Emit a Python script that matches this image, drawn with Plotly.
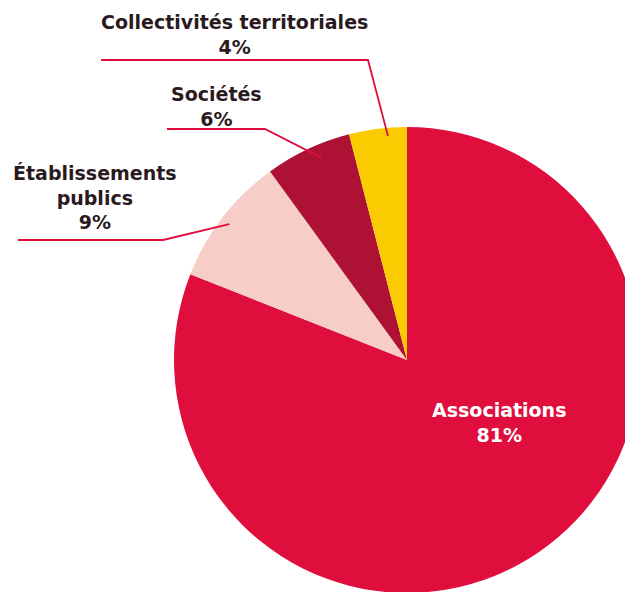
import math
import plotly.graph_objects as go

# ---- data ----
labels = ["Associations", "Établissements publics", "Sociétés", "Collectivités territoriales"]
label_text = ["Associations", "Établissements<br>publics", "Sociétés", "Collectivités territoriales"]
values = [81, 9, 6, 4]
colors = ["#E00E3D", "#F7CDC7", "#AD1235", "#F9CB00"]

# ---- layout / styling ----
OFF = 8                     # page offset of the figure inside the window
W, H = 632, 592
CX, CY, R = 407, 360, 233   # pie centre and radius in window pixels
FONT = "DejaVu Sans, sans-serif"
FSIZE = 19
TXT = "#2A1A1E"
LINE = "#E00E3D"

# outside labels (window px): text centre, horizontal line start x, elbow,
# anchor radius factor and angular nudge (degrees) from the slice middle
outside = {
    1: dict(tx=95, ty=197, hx=18, ex=163, ey=240, rf=0.96, da=-0.4),
    2: dict(tx=216, ty=107, hx=167, ex=265, ey=129, rf=0.94, da=2.4),
    3: dict(tx=234, ty=34, hx=101, ex=368, ey=60, rf=0.965, da=2.35),
}
inside_pos = {0: (499, 422)}

def px(x):
    return (x - OFF) / W

def py(y):
    return 1 - (y - OFF) / H

fig = go.Figure(go.Pie(
    labels=labels,
    values=values,
    marker=dict(colors=colors, line=dict(width=0)),
    sort=False,
    direction="clockwise",
    rotation=0,
    textinfo="none",
    hoverinfo="label+percent",
    showlegend=False,
    domain=dict(x=[max(0.0, px(CX - R)), min(1.0, px(CX + R))],
                y=[max(0.0, py(CY + R)), min(1.0, py(CY - R))]),
))

total = sum(values)
annotations = []
shapes = []
cum = 0
for i, v in enumerate(values):
    pct = round(100 * v / total)
    mid = (cum + v / 2) / total * 360
    cum += v
    if i in inside_pos:
        x, y = inside_pos[i]
        annotations.append(dict(
            x=px(x), y=py(y), xref="paper", yref="paper",
            text=f"<b>{label_text[i]}<br>{pct}%</b>", showarrow=False,
            font=dict(family=FONT, size=FSIZE, color="white"),
            xanchor="center", yanchor="middle", align="center"))
        continue
    o = outside[i]
    a = math.radians(mid + o["da"])
    ax = CX + o["rf"] * R * math.sin(a)
    ay = CY - o["rf"] * R * math.cos(a)
    annotations.append(dict(
        x=px(o["tx"]), y=py(o["ty"]), xref="paper", yref="paper",
        text=f"<b>{label_text[i]}<br>{pct}%</b>", showarrow=False,
        font=dict(family=FONT, size=FSIZE, color=TXT),
        xanchor="center", yanchor="middle", align="center"))
    path = f"M {px(o['hx'])} {py(o['ey'])} L {px(o['ex'])} {py(o['ey'])} L {px(ax)} {py(ay)}"
    shapes.append(dict(type="path", path=path, xref="paper", yref="paper",
                       line=dict(color=LINE, width=1.8)))

fig.update_layout(
    width=W, height=H,
    margin=dict(l=0, r=0, t=0, b=0),
    paper_bgcolor="white", plot_bgcolor="white",
    annotations=annotations, shapes=shapes,
)

fig.write_html("out.html")
